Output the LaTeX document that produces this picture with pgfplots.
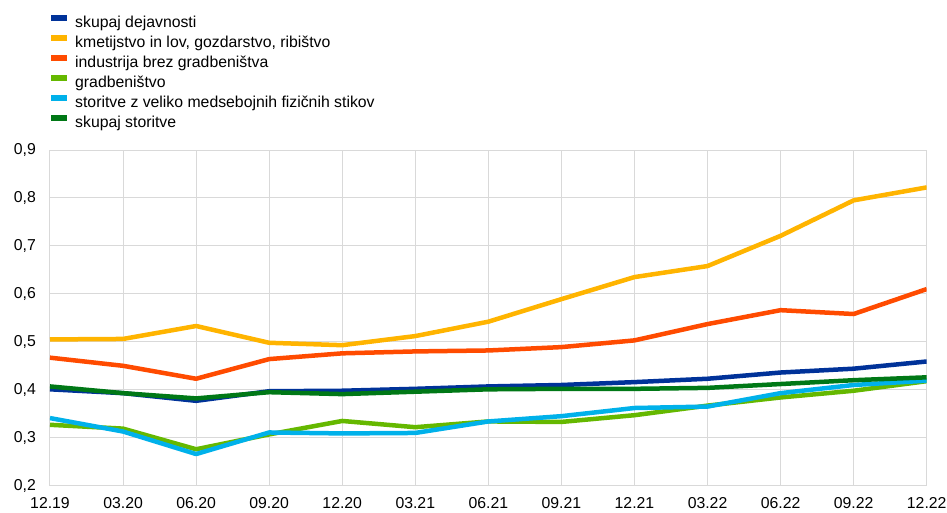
\documentclass[border=0pt]{standalone}
\usepackage{fontspec}
\setmainfont{Liberation Sans}
\usepackage{pgfplots}
\usepackage{pgfplotstable}
\pgfplotsset{compat=1.18}

\definecolor{ecbblue}{HTML}{003299}
\definecolor{ecbyellow}{HTML}{FFB400}
\definecolor{ecborange}{HTML}{FF4B00}
\definecolor{ecbgreen}{HTML}{65B800}
\definecolor{ecbcyan}{HTML}{00B1EA}
\definecolor{ecbdkgreen}{HTML}{007816}
\definecolor{gridgray}{HTML}{D9D9D9}

% quarter index, then one column per sector
\pgfplotstableread{
x  vse    kmet   ind    grad   stik   stor
0  0.401  0.505  0.467  0.327  0.341  0.407
1  0.393  0.506  0.450  0.319  0.313  0.393
2  0.377  0.533  0.423  0.276  0.266  0.382
3  0.397  0.498  0.464  0.307  0.311  0.395
4  0.398  0.493  0.476  0.335  0.309  0.391
5  0.402  0.512  0.480  0.322  0.310  0.396
6  0.407  0.542  0.482  0.334  0.334  0.401
7  0.410  0.589  0.489  0.333  0.345  0.402
8  0.416  0.635  0.503  0.347  0.362  0.402
9  0.423  0.658  0.537  0.367  0.365  0.404
10 0.436  0.721  0.566  0.384  0.393  0.412
11 0.444  0.795  0.558  0.398  0.410  0.420
12 0.459  0.822  0.610  0.418  0.419  0.426
}\datatable

\begin{document}
\fontsize{15.8}{18}\selectfont
\begin{tikzpicture}
\useasboundingbox (0,0) rectangle (947pt,512pt);
\begin{axis}[
  at={(50pt,26.3pt)}, anchor=south west,
  scale only axis, width=876.7pt, height=335.7pt,
  xmin=0, xmax=12, ymin=0.2, ymax=0.9,
  xtick={0,...,12},
  xticklabels={12.19,03.20,06.20,09.20,12.20,03.21,06.21,09.21,12.21,03.22,06.22,09.22,12.22},
  ytick={0.2,0.3,...,0.9},
  /pgf/number format/.cd, assume math mode=true, use comma, fixed, fixed zerofill, precision=1,
  /pgfplots/.cd,
  major tick length=0pt,
  grid=major,
  grid style={gridgray, line width=1pt},
  axis line style={gridgray, line width=1pt},
  tick label style={font=\fontsize{15.8}{18}\selectfont, inner sep=0pt},
  yticklabel style={xshift=-14pt},
  xticklabel style={yshift=-11.5pt},
  every axis plot/.append style={line width=4.5pt, line join=round},
  legend cell align=left,
  legend style={draw=none, fill=none, inner sep=0pt, at={(0,1)}, anchor=north west,
    xshift=-2pt, yshift=135pt, font=\fontsize{15.8}{18}\selectfont,
    nodes={inner sep=0pt, text height=11pt, text depth=3pt},
    row sep=4.5pt, column sep=5pt},
  legend image code/.code={\draw[#1, line width=6pt, line cap=butt] (0pt,5.5pt) -- (16pt,5.5pt);},
]
\addplot[ecbblue] table[x=x, y=vse] {\datatable};
\addlegendentry{skupaj dejavnosti}
\addplot[ecbyellow] table[x=x, y=kmet] {\datatable};
\addlegendentry{kmetijstvo in lov, gozdarstvo, ribištvo}
\addplot[ecborange] table[x=x, y=ind] {\datatable};
\addlegendentry{industrija brez gradbeništva}
\addplot[ecbgreen] table[x=x, y=grad] {\datatable};
\addlegendentry{gradbeništvo}
\addplot[ecbcyan] table[x=x, y=stik] {\datatable};
\addlegendentry{storitve z veliko medsebojnih fizičnih stikov}
\addplot[ecbdkgreen] table[x=x, y=stor] {\datatable};
\addlegendentry{skupaj storitve}
\end{axis}
\end{tikzpicture}
\end{document}
